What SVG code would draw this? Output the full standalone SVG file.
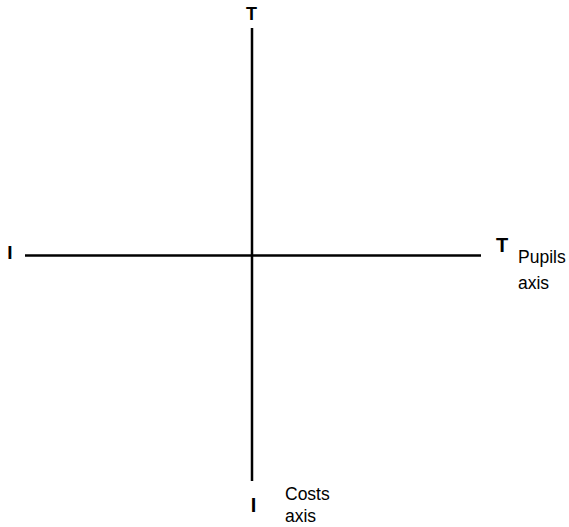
<svg xmlns="http://www.w3.org/2000/svg" width="569" height="527" viewBox="0 0 569 527">
<style>
.axis{stroke:#000;stroke-width:2.5;fill:none}
.end{font-family:"Liberation Sans",Arial,sans-serif;font-weight:bold;font-size:18px;fill:#000}
.lbl{font-family:"Liberation Sans",Arial,sans-serif;font-size:17.5px;fill:#000}
</style>
<rect width="569" height="527" fill="#fff"/>
<g id="connectors">
<line class="axis" x1="252" y1="28" x2="252" y2="481"/>
<line class="axis" x1="25" y1="255.5" x2="481" y2="255.5"/>
</g>
<g id="top-end"><text class="end" x="251.5" y="20" text-anchor="middle">T</text></g>
<g id="left-end"><text class="end" x="10" y="259" text-anchor="middle" style="font-size:19px">I</text></g>
<g id="right-end"><text class="end" x="502" y="252" text-anchor="middle" style="font-size:20px">T</text></g>
<g id="bottom-end"><text class="end" x="253.5" y="511.5" text-anchor="middle" style="font-size:20px">I</text></g>
<g id="pupils-label"><text class="lbl" x="518" y="263">Pupils</text><text class="lbl" x="518" y="289">axis</text></g>
<g id="costs-label"><text class="lbl" x="285" y="500">Costs</text><text class="lbl" x="285" y="522">axis</text></g>
</svg>
